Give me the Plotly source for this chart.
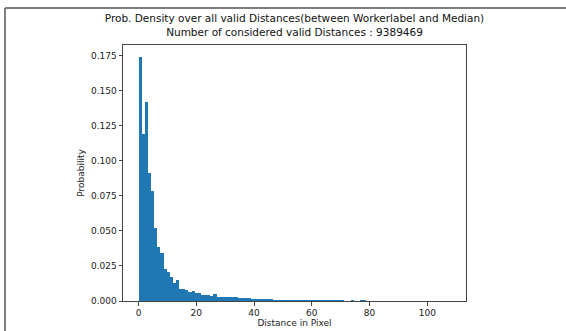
import numpy as np
import plotly.graph_objects as go

# Histogram (density) values, 100 bins over [0, 108]
bin_start = 0.0
bin_stop = 108.0
density = [
    0.1738, 0.1193, 0.1418, 0.0913, 0.0783, 0.0517, 0.0386, 0.0339, 0.0225, 0.0208,
    0.0173, 0.0130, 0.0149, 0.0088, 0.0083, 0.0082, 0.0066, 0.0070, 0.0059, 0.0055,
    0.0043, 0.0044, 0.0042, 0.0036, 0.0048, 0.0031, 0.0029, 0.0026, 0.0025, 0.0030,
    0.0026, 0.0025, 0.0020, 0.0019, 0.0019, 0.0018, 0.0016, 0.0012, 0.0012, 0.0011,
    0.0009, 0.0009, 0.0008, 0.0006, 0.0006, 0.0005, 0.0005, 0.0005, 0.0004, 0.0004,
    0.0004, 0.0004, 0.0003, 0.0003, 0.0003, 0.0003, 0.0003, 0.0003, 0.0001, 0.0001,
    0.0002, 0.0002, 0.0001, 0.0001, 0.0002, 0.0002, 0.0000, 0.0000, 0.0001, 0.0000,
    0.0000, 0.0002, 0.0002, 0.0000, 0.0000, 0.0000, 0.0000, 0.0000, 0.0000, 0.0000,
    0.0000, 0.0000, 0.0000, 0.0000, 0.0000, 0.0000, 0.0000, 0.0000, 0.0000, 0.0000,
    0.0000, 0.0000, 0.0000, 0.0000, 0.0000, 0.0000, 0.0000, 0.0000, 0.0000, 0.0000,
]
x_ticks = [0, 20, 40, 60, 80, 100]
y_ticks = [0.0, 0.025, 0.05, 0.075, 0.1, 0.125, 0.15, 0.175]
title_lines = ["Prob. Density over all valid Distances(between Workerlabel and Median)",
               "Number of considered valid Distances : 9389469"]

n = len(density)
edges = np.linspace(bin_start, bin_stop, n + 1)
centers = (edges[:-1] + edges[1:]) / 2
width = edges[1] - edges[0]

W, H = 566, 331
L, R, T, B = 123, 100, 45, 30
pw, ph = W - L - R, H - T - B

fig = go.Figure()
fig.add_trace(go.Bar(x=centers, y=density, width=width,
                     marker=dict(color="#1f77b4", line=dict(width=0))))

span = bin_stop - bin_start
ymax = max(density) * 1.05
axis_col = "#444444"
font = "DejaVu Sans, sans-serif"

fig.update_layout(
    width=W, height=H,
    margin=dict(l=L, r=R, t=T, b=B, pad=0, autoexpand=False),
    paper_bgcolor="white", plot_bgcolor="white",
    showlegend=False, bargap=0,
    font=dict(family=font, size=9, color="#222222"),
    title=dict(text="<br>".join(title_lines), x=0.5, xanchor="center",
               xref="paper", y=1 - 22 / H, yanchor="middle",
               font=dict(family=font, size=10.5, color="#111111")),
)
fig.update_xaxes(
    range=[bin_start - 0.05 * span, bin_stop + 0.05 * span],
    tickvals=x_ticks, ticktext=[str(v) for v in x_ticks],
    ticks="outside", ticklen=3.5, tickwidth=1, tickcolor=axis_col,
    ticklabelstandoff=0, automargin=False,
    showgrid=False, zeroline=False,
    showline=True, linecolor=axis_col, linewidth=1, mirror=True,
    title=dict(text="Distance in Pixel", standoff=0, font=dict(size=9)),
    tickfont=dict(size=9),
)
fig.update_yaxes(
    range=[0, ymax], automargin=False,
    tickvals=y_ticks, ticktext=[f"{v:.3f}" for v in y_ticks],
    ticks="outside", ticklen=3.5, tickwidth=1, tickcolor=axis_col,
    showgrid=False, zeroline=False,
    showline=True, linecolor=axis_col, linewidth=1, mirror=True,
    title=dict(text="Probability", standoff=4, font=dict(size=9)),
    tickfont=dict(size=9),
)

# outer window frame (left and top edges visible)
def px_to_paper_x(px):
    return (px - L) / pw

def py_to_paper_y(py):
    return (H - B - py) / ph

frame_col = "#555555"
fig.add_shape(type="line", xref="paper", yref="paper",
              x0=px_to_paper_x(5), x1=px_to_paper_x(5),
              y0=py_to_paper_y(8), y1=py_to_paper_y(H + 2),
              line=dict(color=frame_col, width=1.5))
fig.add_shape(type="line", xref="paper", yref="paper",
              x0=px_to_paper_x(5), x1=px_to_paper_x(W + 2),
              y0=py_to_paper_y(8), y1=py_to_paper_y(8),
              line=dict(color=frame_col, width=1.5))

fig.write_html("out.html", config={"displayModeBar": False},
               post_script="document.body.style.margin='0';")
